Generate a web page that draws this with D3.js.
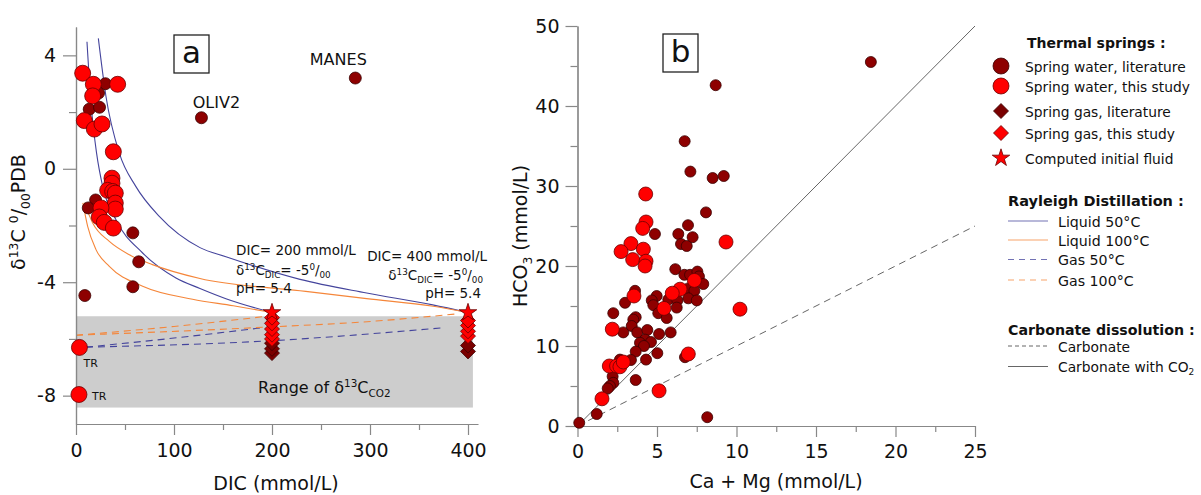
<!DOCTYPE html>
<html><head><meta charset="utf-8">
<script src="https://cdn.jsdelivr.net/npm/d3@7"></script>
<style>body{margin:0;background:#fff} svg{display:block;font-family:'DejaVu Sans',sans-serif}</style>
</head><body><svg id="c" width="1201" height="495"></svg>
<script>
// ---------- Panel a data: [DIC (mmol/L), d13C permil] ----------
const waterLitA = [[30,3.0],[23,2.67],[13.5,2.1],[24,2.17],[128,1.8],[285,3.2],[20,-1.1],[12.5,-1.38],[58,-2.26],[64,-3.28],[58,-4.16],[9,-4.47]];
const waterStudyA = [[6.8,3.37],[17.7,2.98],[42.5,2.98],[17,2.57],[8.5,1.7],[18.7,1.4],[26.5,1.58],[38.1,0.6],[36.7,-0.33],[36.7,-0.51],[32.3,-0.76],[37.4,-0.8],[40.1,-0.86],[40.1,-1.21],[40.1,-1.42],[25.5,-1.38],[23.8,-1.7],[28.9,-1.89],[38.1,-2.09],[3.5,-6.3],[3,-7.96]];
const gasLitA = [[200,-6.5],[200,-6.35],[200,-6.15],[400,-6.44],[400,-6.23]];
const gasStudyA = [[200,-6.0],[200,-5.85],[200,-5.65],[200,-5.45],[200,-5.25],[400,-5.9],[400,-5.73],[400,-5.53],[400,-5.35]];
const initialFluidA = [[200,-5.07],[400,-5.07]];
const labelsA = [["OLIV2",128,1.8],["MANES",285,3.2]];
const trLabels = [["TR",3.5,-6.3],["TR",3,-7.96]];
// Rayleigh distillation curves
const liq50_200 = [[11.2,4.48],[15.3,2.31],[21,0.55],[27.2,-0.62],[40.8,-1.8],[68,-2.97],[102,-3.85],[126.5,-4.22],[153,-4.58],[200,-5.07]];
const liq50_400 = [[22.8,4.6],[30.6,2.55],[44.2,0.55],[61,-0.62],[85,-1.68],[126.5,-2.78],[153,-3.1],[228.6,-3.9],[296.6,-4.38],[364,-4.8],[400,-5.07]];
const liq100_200 = [[7,-1.2],[11.9,-2.03],[20.4,-2.85],[34,-3.44],[68,-4.14],[119,-4.6],[160.5,-4.83],[200,-5.07]];
const liq100_400 = [[8.5,-1.2],[17,-1.91],[34,-2.56],[54.4,-3.03],[78,-3.38],[126.5,-3.87],[228.6,-4.3],[296.6,-4.58],[364.6,-4.85],[400,-5.07]];
const gas50_200 = [[10.2,-6.29],[100,-5.97],[188.8,-5.61]];
const gas50_400 = [[10.2,-6.29],[190.5,-6.08],[374,-5.61]];
const gas100_200 = [[0,-5.87],[100,-5.56],[190,-5.22]];
const gas100_400 = [[0,-5.87],[190.5,-5.59],[306,-5.37],[388,-5.12]];
const co2Range = [-8.42,-5.2];
const co2RangeDIC = [0,405];
const xTicksA = [0,100,200,300,400], xMinorA = [50,150,250,350];
const yTicksA = [-8,-4,0,4], yMinorA = [-6,-2,2];

// ---------- Panel b data: [Ca+Mg, HCO3] (mmol/L) ----------
const waterLitB = [[18.45,45.5],[8.69,42.6],[6.74,35.6],[7.1,31.8],[8.5,31.0],[9.2,31.25],[8.08,26.7],[6.95,25.1],[6.34,24.0],[7.24,23.6],[4.87,24.0],[6.51,22.75],[6.87,22.5],[6.15,19.6],[6.72,18.9],[7.08,18.9],[7.54,19.3],[7.64,18.7],[7.33,18.0],[7.91,17.75],[6.97,17.2],[7.35,16.9],[3.62,16.9],[2.99,15.4],[4.98,16.25],[4.67,15.7],[5.71,15.8],[6.28,15.7],[6.97,15.96],[7.5,15.7],[4.77,15.1],[5.08,14.1],[5.61,13.5],[6.24,14.8],[2.25,14.1],[3.66,13.6],[3.51,13.3],[2.88,11.7],[3.41,12.5],[3.76,11.7],[4.39,12.0],[5.13,11.5],[5.86,11.7],[4.25,10.8],[4.62,10.5],[3.93,10.4],[4.18,10.0],[3.66,9.3],[5.02,9.1],[3.36,8.25],[4.31,8.3],[6.76,8.6],[2.67,8.3],[2.21,6.2],[2.25,5.4],[2.04,5.0],[1.9,4.7],[3.66,5.75],[1.21,1.5],[0.11,0.4],[8.16,1.1]];
const waterStudyB = [[4.29,29.0],[4.31,25.5],[4.1,24.7],[9.34,23.0],[3.36,22.8],[2.74,21.8],[4.14,22.1],[3.47,20.8],[4.31,20.6],[4.25,20.0],[7.35,18.2],[6.45,17.1],[5.96,16.6],[3.55,16.25],[5.44,14.7],[10.22,14.6],[2.19,12.1],[6.97,9.0],[2.0,7.5],[2.46,7.5],[2.67,7.4],[2.88,8.0],[5.13,4.4],[1.54,3.4]];
const carbonateLine = [[0,0],[25,25]];
const carbonateCO2Line = [[0,0],[25,50]];
const xTicksB = [0,5,10,15,20,25], xMinorB = [2.5,7.5,12.5,17.5,22.5];
const yTicksB = [0,10,20,30,40,50], yMinorB = [5,15,25,35,45];

// ---------- legend ----------
const legendMarkers = ["Spring water, literature","Spring water, this study","Spring gas, literature","Spring gas, this study","Computed initial fluid"];
const legendRayleigh = ["Liquid 50°C","Liquid 100°C","Gas 50°C","Gas 100°C"];

// ---------- styles ----------
const C = {dark:"#8e0000", darkStroke:"#3a0000", red:"#ff0000", redStroke:"#6a0000",
  blue:"#44449c", orange:"#f5863a", axis:"#888", band:"#cdcdcd", carb:"#666"};

const svg = d3.select('#c');
svg.append('rect').attr('width',1201).attr('height',495).attr('fill','#fff');

const xA = d3.scaleLinear().domain([0,410]).range([76,477.8]);
const yA = d3.scaleLinear().domain([-9,5]).range([424,27]);
const xB = d3.scaleLinear().domain([0,25]).range([577.5,975]);
const yB = d3.scaleLinear().domain([0,50]).range([426,26]);

function styleAxis(sel){
  sel.select('.domain').attr('stroke',C.axis).attr('stroke-width',1.2);
  sel.selectAll('.tick line').attr('stroke',C.axis).attr('stroke-width',1.2);
  sel.selectAll('.tick text').attr('fill','#111').style('font-family',"'DejaVu Sans',sans-serif").style('font-size','19px');
}
function rich(x,y,anchor,size,parts,transform){
  const t = svg.append('text').attr('x',x).attr('y',y).attr('text-anchor',anchor)
    .style('font-size',size+'px').attr('fill','#111');
  if(transform) t.attr('transform',transform);
  let cur=0;
  parts.forEach(([s,k])=>{
    const target = k==='sup' ? -0.38*size : k==='sub' ? 0.25*size : 0;
    const sp = t.append('tspan').attr('dy',target-cur).text(s);
    if(k!=='n') sp.style('font-size',(size*0.65)+'px');
    cur = target;
  });
  return t;
}
const diamond = (h)=>`M0,${-h}L${h},0L0,${h}L${-h},0Z`;

// ================= PANEL A =================
const gA = svg.append('g');
gA.append('rect').attr('x',xA(co2RangeDIC[0])).attr('y',yA(co2Range[1]))
  .attr('width',xA(co2RangeDIC[1])-xA(co2RangeDIC[0])).attr('height',yA(co2Range[0])-yA(co2Range[1]))
  .attr('fill',C.band);

const lineA = d3.line().x(d=>xA(d[0])).y(d=>yA(d[1])).curve(d3.curveMonotoneX);
[[liq50_200,C.blue,null],[liq50_400,C.blue,null],[liq100_200,C.orange,null],[liq100_400,C.orange,null],
 [gas50_200,C.blue,'7,5'],[gas50_400,C.blue,'7,5'],[gas100_200,C.orange,'7,5'],[gas100_400,C.orange,'7,5']]
 .forEach(([d,col,dash])=>{
   const p = gA.append('path').attr('d',lineA(d)).attr('fill','none').attr('stroke',col).attr('stroke-width',1.1);
   if(dash) p.attr('stroke-dasharray',dash);
 });

// axes A
const axA = svg.append('g');
axA.append('g').attr('transform',`translate(0,${yA(-9)})`)
  .call(d3.axisBottom(xA).tickValues(xMinorA).tickSize(6).tickFormat('').tickSizeOuter(0)).call(styleAxis);
axA.append('g').attr('transform',`translate(0,${yA(-9)})`)
  .call(d3.axisBottom(xA).tickValues(xTicksA).tickSize(11).tickPadding(9).tickFormat(d=>String(d)).tickSizeOuter(0)).call(styleAxis);
axA.append('g').attr('transform',`translate(${xA(0)},0)`)
  .call(d3.axisLeft(yA).tickValues(yMinorA).tickSize(7).tickFormat('').tickSizeOuter(0)).call(styleAxis);
axA.append('g').attr('transform',`translate(${xA(0)},0)`)
  .call(d3.axisLeft(yA).tickValues(yTicksA).tickSize(13).tickPadding(7).tickFormat(d=>String(d)).tickSizeOuter(0)).call(styleAxis);

// points A
const pA = svg.append('g');
pA.selectAll('.dl').data(waterLitA).join('circle').attr('cx',d=>xA(d[0])).attr('cy',d=>yA(d[1])).attr('r',6)
  .attr('fill',C.dark).attr('stroke',C.darkStroke).attr('stroke-width',0.8);
pA.selectAll('.rs').data(waterStudyA).join('circle').attr('cx',d=>xA(d[0])).attr('cy',d=>yA(d[1])).attr('r',8)
  .attr('fill',C.red).attr('stroke',C.redStroke).attr('stroke-width',0.8);
pA.selectAll('.gl').data(gasLitA.slice().sort((a,b)=>a[1]-b[1])).join('path')
  .attr('transform',d=>`translate(${xA(d[0])},${yA(d[1])})`).attr('d',diamond(7.5))
  .attr('fill','#7a0000').attr('stroke',C.darkStroke).attr('stroke-width',0.8);
pA.selectAll('.gs').data(gasStudyA.slice().sort((a,b)=>a[1]-b[1])).join('path')
  .attr('transform',d=>`translate(${xA(d[0])},${yA(d[1])})`).attr('d',diamond(7.5))
  .attr('fill',C.red).attr('stroke',C.redStroke).attr('stroke-width',0.8);
pA.selectAll('.st').data(initialFluidA).join('path')
  .attr('transform',d=>`translate(${xA(d[0])},${yA(d[1])})`).attr('d',d3.symbol(d3.symbolStar,95)())
  .attr('fill',C.red).attr('stroke',C.redStroke).attr('stroke-width',0.8);

// labels A
svg.append('text').attr('x',xA(labelsA[0][1])+15).attr('y',yA(labelsA[0][2])-10).attr('text-anchor','middle')
  .style('font-size','16px').attr('fill','#111').text(labelsA[0][0]);
svg.append('text').attr('x',xA(labelsA[1][1])-17).attr('y',yA(labelsA[1][2])-13).attr('text-anchor','middle')
  .style('font-size','16px').attr('fill','#111').text(labelsA[1][0]);
svg.append('text').attr('x',xA(trLabels[0][1])+4).attr('y',yA(trLabels[0][2])+20).style('font-size','11px').attr('fill','#111').text(trLabels[0][0]);
svg.append('text').attr('x',xA(trLabels[1][1])+13).attr('y',yA(trLabels[1][2])+5).style('font-size','11px').attr('fill','#111').text(trLabels[1][0]);

rich(236,255,'start',13.5,[['DIC= 200 mmol/L','n']]);
rich(236,275,'start',13.5,[['δ','n'],['13','sup'],['C','n'],['DIC','sub'],['= -5','n'],['0','sup'],['/','n'],['00','sub']]);
rich(236,293,'start',13.5,[['pH= 5.4','n']]);
rich(487,261,'end',13.5,[['DIC= 400 mmol/L','n']]);
rich(483,280,'end',13.5,[['δ','n'],['13','sup'],['C','n'],['DIC','sub'],['= -5','n'],['0','sup'],['/','n'],['00','sub']]);
rich(481,298,'end',13.5,[['pH= 5.4','n']]);
rich(258,393,'start',16,[['Range of δ','n'],['13','sup'],['C','n'],['CO2','sub']]);

// axis titles A
svg.append('text').attr('x',276).attr('y',490).attr('text-anchor','middle').style('font-size','19px').attr('fill','#111').text('DIC (mmol/L)');
rich(0,0,'middle',19,[['δ','n'],['13','sup'],['C ','n'],['0','sup'],['/','n'],['00','sub'],['PDB','n']],'translate(25,212) rotate(-90)');

// box a
svg.append('rect').attr('x',174).attr('y',35).attr('width',35).attr('height',38).attr('fill','#fff').attr('stroke','#222').attr('stroke-width',1.3);
svg.append('text').attr('x',191.5).attr('y',63).attr('text-anchor','middle').style('font-size','31px').attr('fill','#111').text('a');

// ================= PANEL B =================
const lineB = d3.line().x(d=>xB(d[0])).y(d=>yB(d[1]));
svg.append('path').attr('d',lineB(carbonateCO2Line)).attr('fill','none').attr('stroke',C.carb).attr('stroke-width',1);
svg.append('path').attr('d',lineB(carbonateLine)).attr('fill','none').attr('stroke',C.carb).attr('stroke-width',1).attr('stroke-dasharray','7,5');

const axB = svg.append('g');
axB.append('g').attr('transform',`translate(0,${yB(0)})`)
  .call(d3.axisBottom(xB).tickValues(xMinorB).tickSize(6).tickFormat('').tickSizeOuter(0)).call(styleAxis);
axB.append('g').attr('transform',`translate(0,${yB(0)})`)
  .call(d3.axisBottom(xB).tickValues(xTicksB).tickSize(11).tickPadding(8).tickFormat(d=>String(d)).tickSizeOuter(0)).call(styleAxis);
axB.append('g').attr('transform',`translate(${xB(0)},0)`)
  .call(d3.axisLeft(yB).tickValues(yMinorB).tickSize(7).tickFormat('').tickSizeOuter(0)).call(styleAxis);
axB.append('g').attr('transform',`translate(${xB(0)},0)`)
  .call(d3.axisLeft(yB).tickValues(yTicksB).tickSize(12).tickPadding(6).tickFormat(d=>String(d)).tickSizeOuter(0)).call(styleAxis);

const pB = svg.append('g');
pB.selectAll('.dl').data(waterLitB).join('circle').attr('cx',d=>xB(d[0])).attr('cy',d=>yB(d[1])).attr('r',5.5)
  .attr('fill',C.dark).attr('stroke',C.darkStroke).attr('stroke-width',0.8);
pB.selectAll('.rs').data(waterStudyB).join('circle').attr('cx',d=>xB(d[0])).attr('cy',d=>yB(d[1])).attr('r',7)
  .attr('fill',C.red).attr('stroke',C.redStroke).attr('stroke-width',0.8);

svg.append('text').attr('x',776).attr('y',488).attr('text-anchor','middle').style('font-size','19px').attr('fill','#111').text('Ca + Mg (mmol/L)');
rich(0,0,'middle',19,[['HCO','n'],['3','sub'],[' (mmol/L)','n']],'translate(527,236) rotate(-90)');

svg.append('rect').attr('x',663).attr('y',34).attr('width',35).attr('height',38).attr('fill','#fff').attr('stroke','#222').attr('stroke-width',1.3);
svg.append('text').attr('x',680.5).attr('y',62).attr('text-anchor','middle').style('font-size','31px').attr('fill','#111').text('b');

// ================= LEGEND =================
const L = svg.append('g');
L.append('text').attr('x',1027).attr('y',48).style('font-size','14px').style('font-weight','bold').attr('fill','#111').text('Thermal springs :');
const ly = [66,86,111,133,158], lty = [71.5,92,116.5,139,164];
L.append('circle').attr('cx',1001).attr('cy',ly[0]).attr('r',8).attr('fill',C.dark).attr('stroke',C.darkStroke).attr('stroke-width',0.8);
L.append('circle').attr('cx',1001).attr('cy',ly[1]).attr('r',8).attr('fill',C.red).attr('stroke',C.redStroke).attr('stroke-width',0.8);
L.append('path').attr('transform',`translate(1001,${ly[2]})`).attr('d',diamond(7.5)).attr('fill','#7a0000').attr('stroke',C.darkStroke).attr('stroke-width',0.8);
L.append('path').attr('transform',`translate(1001,${ly[3]})`).attr('d',diamond(7.5)).attr('fill',C.red).attr('stroke',C.redStroke).attr('stroke-width',0.8);
L.append('path').attr('transform',`translate(1001,${ly[4]})`).attr('d',d3.symbol(d3.symbolStar,95)()).attr('fill',C.red).attr('stroke',C.redStroke).attr('stroke-width',0.8);
legendMarkers.forEach((s,i)=>L.append('text').attr('x',1025).attr('y',lty[i]).style('font-size','13.8px').attr('fill','#111').text(s));

L.append('text').attr('x',1008).attr('y',206).style('font-size','14.5px').style('font-weight','bold').attr('fill','#111').text('Rayleigh Distillation :');
const rly = [221,240,259.5,280];
const rcol = [C.blue,C.orange,C.blue,C.orange];
rly.forEach((y,i)=>{
  const l = L.append('line').attr('x1',1008).attr('x2',1048).attr('y1',y).attr('y2',y).attr('stroke',rcol[i]).attr('stroke-width',1.1).attr('opacity',0.75);
  if(i>=2) l.attr('stroke-dasharray','6,5');
  L.append('text').attr('x',1058).attr('y',y+5.5).style('font-size','14.2px').attr('fill','#111').text(legendRayleigh[i]);
});

L.append('text').attr('x',1008).attr('y',335).style('font-size','14.2px').style('font-weight','bold').attr('fill','#111').text('Carbonate dissolution :');
L.append('line').attr('x1',1008).attr('x2',1048).attr('y1',346).attr('y2',346).attr('stroke',C.carb).attr('stroke-dasharray','4,3');
L.append('text').attr('x',1058).attr('y',352).style('font-size','13.8px').attr('fill','#111').text('Carbonate');
L.append('line').attr('x1',1008).attr('x2',1048).attr('y1',366.5).attr('y2',366.5).attr('stroke',C.carb);
rich(1058,372,'start',13.8,[['Carbonate with CO','n'],['2','sub']]);
</script></body></html>
